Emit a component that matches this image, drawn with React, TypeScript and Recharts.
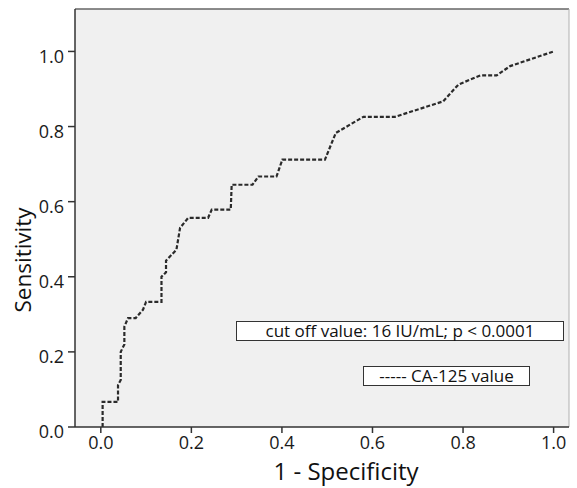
import { Line, LineChart, ReferenceArea, ReferenceLine, XAxis, YAxis } from 'recharts';

// ROC curve points (1 - specificity, sensitivity)
const fpr = [
  0.004, 0.004, 0.038, 0.038, 0.044, 0.044, 0.052, 0.052, 0.06, 0.077, 0.093, 0.1, 0.134, 0.134,
  0.144, 0.144, 0.167, 0.175, 0.193, 0.237, 0.245, 0.287, 0.289, 0.335, 0.348, 0.388, 0.401,
  0.495, 0.519, 0.58, 0.65, 0.756, 0.79, 0.838, 0.874, 0.904, 1.0,
];
const tpr = [
  0, 0.067, 0.067, 0.112, 0.125, 0.2, 0.22, 0.267, 0.29, 0.29, 0.312, 0.333, 0.333, 0.4,
  0.412, 0.443, 0.472, 0.53, 0.557, 0.557, 0.579, 0.579, 0.645, 0.645, 0.667, 0.667, 0.712,
  0.712, 0.783, 0.826, 0.826, 0.867, 0.912, 0.936, 0.936, 0.961, 1.0,
];
const ticks = [0, 0.2, 0.4, 0.6, 0.8, 1.0];
const xDomain = [-0.057, 1.034];
const yDomain = [0, 1.113];

const data = fpr.map((x, i) => ({ x, y: tpr[i] }));

const font = '"Open Sans", sans-serif';
const fmt = (v: number) => v.toFixed(1);

const boxStyle = {
  position: 'absolute' as const,
  height: 18,
  background: '#fff',
  border: '1.5px solid #333',
  fontSize: 17,
  lineHeight: '18px',
  textAlign: 'center' as const,
  color: '#111',
  whiteSpace: 'nowrap' as const,
};

export default function App() {
  return (
    <div
      style={{
        position: 'absolute',
        left: 0,
        top: 0,
        width: 577,
        height: 488,
        background: '#fff',
        fontFamily: font,
      }}
    >
      <LineChart width={577} height={488} data={data} margin={{ top: 9, right: 8, left: 0, bottom: 0 }}>
        <ReferenceArea
          x1={xDomain[0]}
          x2={xDomain[1]}
          y1={yDomain[0]}
          y2={yDomain[1]}
          fill="#f0f0f0"
          fillOpacity={1}
          stroke="none"
          ifOverflow="visible"
        />
        <ReferenceLine y={yDomain[1]} stroke="#666" strokeWidth={1.5} ifOverflow="visible" />
        <ReferenceLine x={xDomain[1]} stroke="#b0b0b0" strokeWidth={1} ifOverflow="visible" />
        <XAxis
          dataKey="x"
          type="number"
          domain={xDomain}
          ticks={ticks}
          tickFormatter={fmt}
          allowDataOverflow
          height={61}
          stroke="#333"
          strokeWidth={1.5}
          tickSize={6}
          tickMargin={3}
          fontSize={18}
          tick={{ fontSize: 18, fill: '#1a1a1a', fontFamily: font }}
          label={{
            content: () => (
              <text x={346} y={480} textAnchor="middle" fontSize={24} fill="#111" fontFamily={font}>
                1 - Specificity
              </text>
            ),
          }}
        />
        <YAxis
          type="number"
          domain={yDomain}
          ticks={ticks}
          tickFormatter={fmt}
          allowDataOverflow
          width={75}
          stroke="#333"
          strokeWidth={1.5}
          tickSize={7}
          tickMargin={4}
          fontSize={18}
          tick={{ fontSize: 18, fill: '#1a1a1a', fontFamily: font, dy: 5 }}
          label={{
            content: () => (
              <text
                x={31}
                y={260}
                transform="rotate(-90 31 260)"
                textAnchor="middle"
                fontSize={22.5}
                fill="#111"
                fontFamily={font}
              >
                Sensitivity
              </text>
            ),
          }}
        />
        <Line
          type="linear"
          dataKey="y"
          stroke="#2a2a2a"
          strokeWidth={2.2}
          strokeDasharray="4 2"
          dot={false}
          isAnimationActive={false}
        />
      </LineChart>
      <div style={{ ...boxStyle, left: 236, top: 321, width: 326 }}>
        cut off value: 16 IU/mL; p &lt; 0.0001
      </div>
      <div style={{ ...boxStyle, left: 363, top: 366, width: 165 }}>----- CA-125 value</div>
    </div>
  );
}
